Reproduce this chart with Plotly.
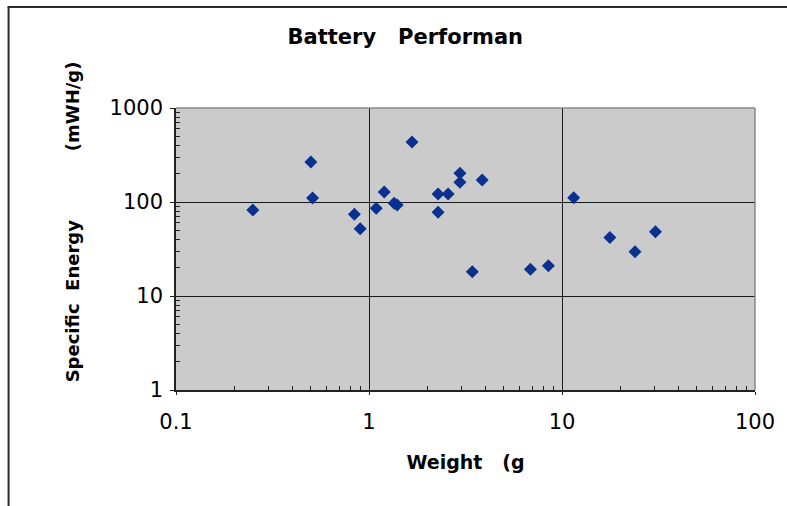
import plotly.graph_objects as go

# Data (log-log scatter)
weight_g = [0.25, 0.50, 0.51, 0.84, 0.90, 1.09, 1.20, 1.35, 1.40, 1.67, 2.28, 2.28,
            2.57, 2.96, 2.96, 3.86, 3.43, 6.86, 8.5, 11.5, 17.7, 23.9, 30.5]
energy_mwh_g = [82, 267, 110, 74, 52, 86, 128, 97, 93, 435, 122, 78,
                122, 202, 162, 171, 18.1, 19.2, 21, 111, 42, 29.6, 48.3]

x_ticks = [0.1, 1, 10, 100]
x_tick_labels = ["0.1", "1", "10", "100"]
y_ticks = [1, 10, 100, 1000]
y_tick_labels = ["1", "10", "100", "1000"]

title_text = "Battery\u00a0\u00a0\u00a0Performan"
x_title = "Weight\u00a0\u00a0\u00a0(g"
y_title = "Specific\u00a0\u00a0Energy" + "\u00a0" * 11 + "(mWH/g)"

W, H = 787, 506
L, R, T, B = 176, 30, 108, 116
pw, ph = W - L - R, H - T - B

def px_to_paper_x(px):
    return (px - L) / pw

def px_to_paper_y(py):
    return (H - B - py) / ph

fig = go.Figure()
fig.add_trace(go.Scatter(
    x=weight_g, y=energy_mwh_g, mode="markers",
    marker=dict(symbol="diamond", size=10, color="#0A318F",
                line=dict(width=0)),
    showlegend=False, hoverinfo="x+y",
))

axis_font = dict(family="DejaVu Sans", size=21, color="black")

fig.update_xaxes(
    type="log", range=[-1, 2], tickvals=x_ticks, ticktext=x_tick_labels,
    showgrid=True, gridcolor="#1a1a1a", gridwidth=1,
    showline=True, linecolor="#222", linewidth=1.5,
    ticks="outside", ticklen=3, tickcolor="#222",
    tickfont=axis_font, ticklabelstandoff=9,
    minor=dict(ticks="inside", ticklen=4, tickcolor="#222", showgrid=False,
               tickvals=[v * m for v in [0.1, 1, 10] for m in range(2, 10)]),
    zeroline=False,
    title=dict(text=x_title, font=dict(family="DejaVu Sans", size=19, color="black"),
               standoff=23),
)
fig.update_yaxes(
    type="log", range=[0, 3], tickvals=y_ticks, ticktext=y_tick_labels,
    showgrid=True, gridcolor="#1a1a1a", gridwidth=1,
    showline=True, linecolor="#222", linewidth=1.5,
    ticks="outside", ticklen=4, tickcolor="#222",
    tickfont=axis_font, ticklabelstandoff=3,
    minor=dict(ticks="inside", ticklen=4, tickcolor="#222", showgrid=False,
               tickvals=[v * m for v in [1, 10, 100] for m in range(2, 10)]),
    zeroline=False,
)

fig.update_layout(
    width=W, height=H,
    margin=dict(l=L, r=R, t=T, b=B, pad=0),
    paper_bgcolor="white", plot_bgcolor="#CBCBCB",
    font=dict(family="DejaVu Sans", color="black"),
    title=dict(text="<b>" + title_text + "</b>",
               font=dict(family="DejaVu Sans", size=21, color="black"),
               xref="paper", x=px_to_paper_x(288), xanchor="left",
               yref="container", y=1 - 37 / H, yanchor="middle"),
    shapes=[
        # plot-area border (top and right in gray)
        dict(type="line", xref="paper", yref="paper", x0=0, x1=1, y0=1, y1=1,
             line=dict(color="#8a8a8a", width=1.5)),
        dict(type="line", xref="paper", yref="paper", x0=1, x1=1, y0=0, y1=1,
             line=dict(color="#8a8a8a", width=1.5)),
        # outer chart frame (left and top)
        dict(type="line", xref="paper", yref="paper",
             x0=px_to_paper_x(8), x1=px_to_paper_x(8),
             y0=px_to_paper_y(7), y1=px_to_paper_y(510),
             line=dict(color="#2a2a2a", width=2)),
        dict(type="line", xref="paper", yref="paper",
             x0=px_to_paper_x(7), x1=px_to_paper_x(790),
             y0=px_to_paper_y(7), y1=px_to_paper_y(7),
             line=dict(color="#2a2a2a", width=2)),
    ],
    annotations=[
        dict(text="<b>" + y_title + "</b>", textangle=-90, showarrow=False,
             xref="paper", yref="paper",
             x=px_to_paper_x(72), y=px_to_paper_y(222),
             xanchor="center", yanchor="middle",
             font=dict(family="DejaVu Sans", size=18, color="black")),
    ],
)
fig.layout.xaxis.title.text = "<b>" + x_title + "</b>"

fig.write_html("out.html")
